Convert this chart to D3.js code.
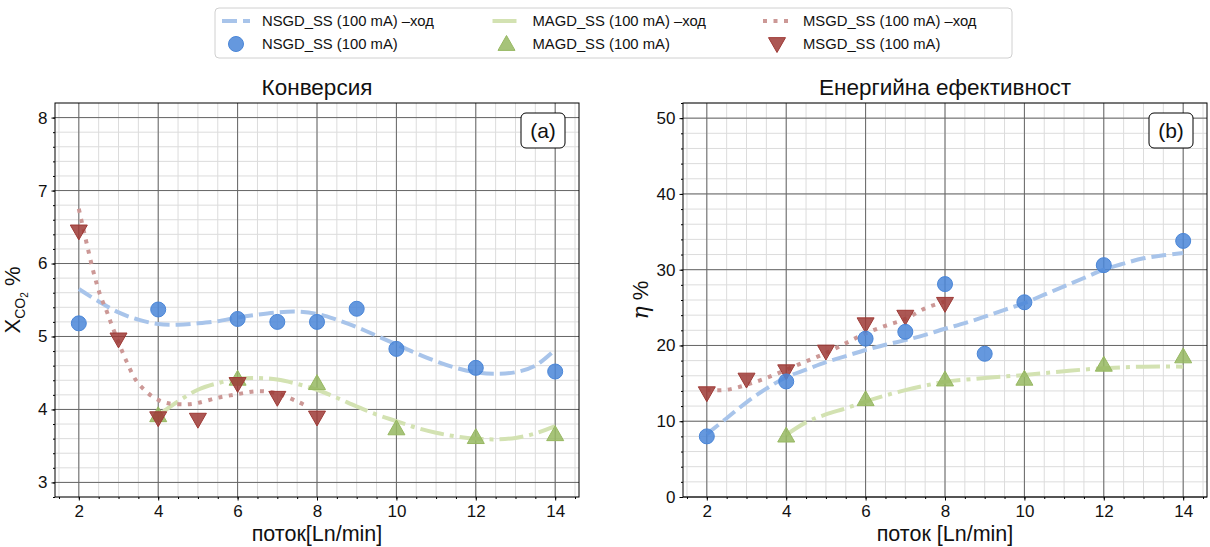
<!DOCTYPE html>
<html>
<head>
<meta charset="utf-8">
<script src="https://cdn.jsdelivr.net/npm/d3@7"></script>
<style>
  html, body { margin: 0; padding: 0; background: #fff; }
  svg { display: block; font-family: "Liberation Sans", Arial, sans-serif; }
</style>
</head>
<body>
<svg id="chart" width="1210" height="547"></svg>
<script>
// Flow rate values (Ln/min) for measured points
const flowNSGD = [2, 4, 6, 7, 8, 9, 10, 12, 14];
const flowMAGD = [4, 6, 8, 10, 12, 14];
const flowMSGD = [2, 3, 4, 5, 6, 7, 8];

// CO2 conversion, %
const convNSGD = [5.18, 5.37, 5.24, 5.20, 5.20, 5.38, 4.83, 4.57, 4.52];
const convMAGD = [3.92, 4.42, 4.36, 3.74, 3.62, 3.66];
const convMSGD = [6.44, 4.96, 3.88, 3.86, 4.35, 4.16, 3.89];

// Energy efficiency, %
const effNSGD = [8.0, 15.25, 20.9, 21.8, 28.1, 18.9, 25.7, 30.6, 33.8];
const effMAGD = [8.1, 12.9, 15.5, 15.6, 17.45, 18.55];
const effMSGD = [13.7, 15.5, 16.6, 19.2, 22.8, 23.8, 25.5];

// Trend curves ("ход") for conversion
const convFitNSGDx = [2, 2.5, 3, 3.5, 4, 4.5, 5, 5.5, 6, 6.5, 7, 7.5, 8, 8.5, 9, 9.5, 10, 10.5, 11, 11.5, 12, 12.5, 13, 13.5, 14];
const convFitNSGDy = [5.65, 5.48, 5.33, 5.23, 5.17, 5.16, 5.18, 5.21, 5.26, 5.30, 5.33, 5.34, 5.31, 5.23, 5.13, 5.01, 4.89, 4.77, 4.66, 4.57, 4.51, 4.49, 4.51, 4.60, 4.82];
const convFitMAGDx = [4, 4.5, 5, 5.5, 6, 6.5, 7, 7.5, 8, 8.5, 9, 9.5, 10, 10.5, 11, 11.5, 12, 12.5, 13, 13.5, 14];
const convFitMAGDy = [3.92, 4.11, 4.27, 4.36, 4.42, 4.43, 4.41, 4.35, 4.27, 4.16, 4.04, 3.93, 3.84, 3.75, 3.68, 3.63, 3.60, 3.59, 3.61, 3.67, 3.77];
const convFitMSGDx = [2, 2.2, 2.4, 2.55, 2.7, 2.8, 3, 3.2, 3.45, 3.65, 3.9, 4.2, 4.7, 5, 5.5, 6, 6.5, 7, 7.5, 7.8];
const convFitMSGDy = [6.75, 6.27, 5.82, 5.55, 5.35, 5.20, 4.92, 4.66, 4.39, 4.27, 4.16, 4.09, 4.07, 4.09, 4.16, 4.21, 4.25, 4.22, 4.11, 4.03];

// Trend curves ("ход") for energy efficiency
const effFitNSGDx = [2, 2.5, 3, 3.5, 4, 4.5, 5, 5.5, 6, 6.5, 7, 7.5, 8, 8.5, 9, 9.5, 10, 10.5, 11, 11.5, 12, 12.5, 13, 13.5, 14];
const effFitNSGDy = [8.3, 10.4, 12.5, 14.3, 15.8, 16.8, 17.8, 18.6, 19.4, 20.1, 20.7, 21.4, 22.2, 22.95, 23.8, 24.7, 25.6, 26.7, 27.8, 28.9, 30.0, 30.8, 31.5, 31.9, 32.2];
const effFitMAGDx = [4, 4.5, 5, 5.5, 6, 6.5, 7, 7.5, 8, 9, 10, 11, 12, 13, 14];
const effFitMAGDy = [8.2, 9.85, 10.9, 11.7, 12.6, 13.4, 14.1, 14.7, 15.2, 15.7, 16.1, 16.6, 17.0, 17.2, 17.2];
const effFitMSGDx = [2, 2.5, 3, 3.5, 4, 4.5, 5, 5.5, 6, 6.5, 7, 7.5, 8];
const effFitMSGDy = [14.1, 14.15, 14.8, 15.7, 16.8, 17.9, 19.0, 20.3, 21.6, 22.6, 23.5, 24.9, 25.8];

// Axis ticks
const xTicks = [2, 4, 6, 8, 10, 12, 14];
const convTicks = [3, 4, 5, 6, 7, 8];
const effTicks = [0, 10, 20, 30, 40, 50];

// Series labels
const legendFit = ["NSGD_SS (100 mA) –ход", "MAGD_SS (100 mA) –ход", "MSGD_SS (100 mA) –ход"];
const legendPts = ["NSGD_SS (100 mA)", "MAGD_SS (100 mA)", "MSGD_SS (100 mA)"];

const style = {
  nsgd: { marker: "#4a86d8", line: "#a8c4ea", dash: "15,6", symbol: "circle" },
  magd: { marker: "#97b862", line: "#d3e2b2", dash: "24,6,4,6", symbol: "up" },
  msgd: { marker: "#9e3a36", line: "#cc9896", dash: "4,6.5", symbol: "down" }
};

const svg = d3.select("#chart");

function zip(xs, ys) { return xs.map((x, i) => [x, ys[i]]); }

function drawMarker(g, kind, x, y, color) {
  if (kind === "circle") {
    g.append("circle").attr("cx", x).attr("cy", y).attr("r", 7.5)
      .attr("fill", color).attr("fill-opacity", 0.85)
      .attr("stroke", color).attr("stroke-width", 1);
  } else {
    const s = 8.5;
    const pts = kind === "up"
      ? [[x, y - s], [x - s, y + s * 0.75], [x + s, y + s * 0.75]]
      : [[x, y + s], [x - s, y - s * 0.75], [x + s, y - s * 0.75]];
    g.append("path").attr("d", "M" + pts.join("L") + "Z")
      .attr("fill", color).attr("fill-opacity", 0.85)
      .attr("stroke", color).attr("stroke-width", 1);
  }
}

function panel(opts) {
  const { left, top, width, height, yDomain, yTicks, yMinorStep, title, tag } = opts;
  const g = svg.append("g").attr("transform", `translate(${left},${top})`);
  const x = d3.scaleLinear().domain([1.4, 14.6]).range([0, width]);
  const y = d3.scaleLinear().domain(yDomain).range([height, 0]);

  // minor grid
  const xMinor = d3.range(3, 30).map(k => k * 0.5);
  const yMinor = d3.range(Math.ceil(yDomain[0] / yMinorStep), Math.floor(yDomain[1] / yMinorStep) + 1)
    .map(k => +(k * yMinorStep).toFixed(4));
  g.append("g").selectAll("line").data(xMinor).join("line")
    .attr("x1", d => x(d)).attr("x2", d => x(d)).attr("y1", 0).attr("y2", height)
    .attr("stroke", "#dcdcdc").attr("stroke-width", 1);
  g.append("g").selectAll("line").data(yMinor).join("line")
    .attr("y1", d => y(d)).attr("y2", d => y(d)).attr("x1", 0).attr("x2", width)
    .attr("stroke", "#dcdcdc").attr("stroke-width", 1);
  // major grid
  g.append("g").selectAll("line").data(xTicks).join("line")
    .attr("x1", d => x(d)).attr("x2", d => x(d)).attr("y1", 0).attr("y2", height)
    .attr("stroke", "#666").attr("stroke-width", 1);
  g.append("g").selectAll("line").data(yTicks).join("line")
    .attr("y1", d => y(d)).attr("y2", d => y(d)).attr("x1", 0).attr("x2", width)
    .attr("stroke", "#666").attr("stroke-width", 1);

  // axes
  g.append("g").attr("transform", `translate(0,${height})`)
    .call(d3.axisBottom(x).tickValues(xTicks).tickFormat(d3.format("d"))
      .tickSize(3.5).tickSizeOuter(0).tickPadding(4));
  g.append("g").attr("transform", `translate(0,${height})`)
    .call(d3.axisBottom(x).tickValues(xMinor).tickSize(2).tickSizeOuter(0).tickFormat(""));
  g.append("g")
    .call(d3.axisLeft(y).tickValues(yTicks).tickFormat(d3.format("d"))
      .tickSize(3.5).tickSizeOuter(0).tickPadding(4));
  g.append("g")
    .call(d3.axisLeft(y).tickValues(yMinor).tickSize(2).tickSizeOuter(0).tickFormat(""));
  g.selectAll(".domain").remove();
  g.selectAll(".tick line").attr("stroke", "#000");
  g.selectAll(".tick text").attr("font-size", 17).attr("fill", "#111")
    .attr("font-family", '"Liberation Sans", Arial, sans-serif');

  // trend curves
  const line = d3.line().x(d => x(d[0])).y(d => y(d[1])).curve(d3.curveCatmullRom.alpha(0.5));
  opts.fits.forEach(f => {
    g.append("path").attr("d", line(f.data)).attr("fill", "none")
      .attr("stroke", f.st.line).attr("stroke-width", 4)
      .attr("stroke-dasharray", f.st.dash);
  });
  // measured points
  opts.points.forEach(p => {
    p.data.forEach(d => drawMarker(g, p.st.symbol, x(d[0]), y(d[1]), p.st.marker));
  });

  // frame
  g.append("rect").attr("width", width).attr("height", height)
    .attr("fill", "none").attr("stroke", "#000").attr("stroke-width", 1);

  // title
  g.append("text").attr("x", width / 2).attr("y", -8).attr("text-anchor", "middle")
    .attr("font-size", 22.5).attr("fill", "#111").text(title);

  // panel tag
  g.append("rect").attr("x", width - 58).attr("y", 10).attr("width", 44).attr("height", 35)
    .attr("rx", 5).attr("fill", "#fff").attr("stroke", "#000").attr("stroke-width", 1);
  g.append("text").attr("x", width - 36).attr("y", 35).attr("text-anchor", "middle")
    .attr("font-size", 21).attr("fill", "#111").text(tag);

  // x label
  g.append("text").attr("x", width / 2).attr("y", height + 44).attr("text-anchor", "middle")
    .attr("font-size", 21.5).attr("fill", "#111").text(opts.xLabel);

  return g;
}

const W = 524, H = 394;

// (a) conversion
const ga = panel({
  left: 55, top: 103, width: W, height: H,
  yDomain: [2.8, 8.2], yTicks: convTicks, yMinorStep: 0.2,
  title: "Конверсия", tag: "(a)", xLabel: "поток[Ln/min]",
  fits: [
    { data: zip(convFitNSGDx, convFitNSGDy), st: style.nsgd },
    { data: zip(convFitMAGDx, convFitMAGDy), st: style.magd },
    { data: zip(convFitMSGDx, convFitMSGDy), st: style.msgd }
  ],
  points: [
    { data: zip(flowMAGD, convMAGD), st: style.magd },
    { data: zip(flowMSGD, convMSGD), st: style.msgd },
    { data: zip(flowNSGD, convNSGD), st: style.nsgd }
  ]
});
const yla = ga.append("text").attr("transform", `translate(-35,${H / 2}) rotate(-90)`)
  .attr("text-anchor", "middle").attr("fill", "#111").attr("font-size", 22);
yla.append("tspan").text("X");
yla.append("tspan").attr("font-size", 14).attr("dy", 5).text("CO");
yla.append("tspan").attr("font-size", 10).attr("dy", 3).text("2");
yla.append("tspan").attr("dy", -8).text(" %");

// (b) energy efficiency
const gb = panel({
  left: 683, top: 103, width: W, height: H,
  yDomain: [0, 52], yTicks: effTicks, yMinorStep: 2,
  title: "Енергийна ефективност", tag: "(b)", xLabel: "поток [Ln/min]",
  fits: [
    { data: zip(effFitNSGDx, effFitNSGDy), st: style.nsgd },
    { data: zip(effFitMAGDx, effFitMAGDy), st: style.magd },
    { data: zip(effFitMSGDx, effFitMSGDy), st: style.msgd }
  ],
  points: [
    { data: zip(flowMAGD, effMAGD), st: style.magd },
    { data: zip(flowMSGD, effMSGD), st: style.msgd },
    { data: zip(flowNSGD, effNSGD), st: style.nsgd }
  ]
});
const ylb = gb.append("text").attr("transform", `translate(-35,${H / 2}) rotate(-90)`)
  .attr("text-anchor", "middle").attr("fill", "#111").attr("font-size", 22);
ylb.append("tspan").attr("font-style", "italic").attr("font-family", '"DejaVu Serif", serif').text("η");
ylb.append("tspan").text(" %");

// legend
const lg = svg.append("g");
lg.append("rect").attr("x", 215).attr("y", 8).attr("width", 797).attr("height", 50)
  .attr("rx", 4).attr("fill", "#fff").attr("stroke", "#d0d0d0").attr("stroke-width", 1);
const keys = ["nsgd", "magd", "msgd"];
keys.forEach((k, i) => {
  const cx = 222 + i * 270.5;
  const st = style[k];
  lg.append("line").attr("x1", cx).attr("x2", cx + 28).attr("y1", 21).attr("y2", 21)
    .attr("stroke", st.line).attr("stroke-width", 4).attr("stroke-dasharray", st.dash);
  lg.append("text").attr("x", cx + 40).attr("y", 26).attr("font-size", 14.8).attr("fill", "#111").text(legendFit[i]);
  drawMarker(lg, st.symbol, cx + 14, 44, st.marker);
  lg.append("text").attr("x", cx + 40).attr("y", 49).attr("font-size", 14.8).attr("fill", "#111").text(legendPts[i]);
});
</script>
</body>
</html>
